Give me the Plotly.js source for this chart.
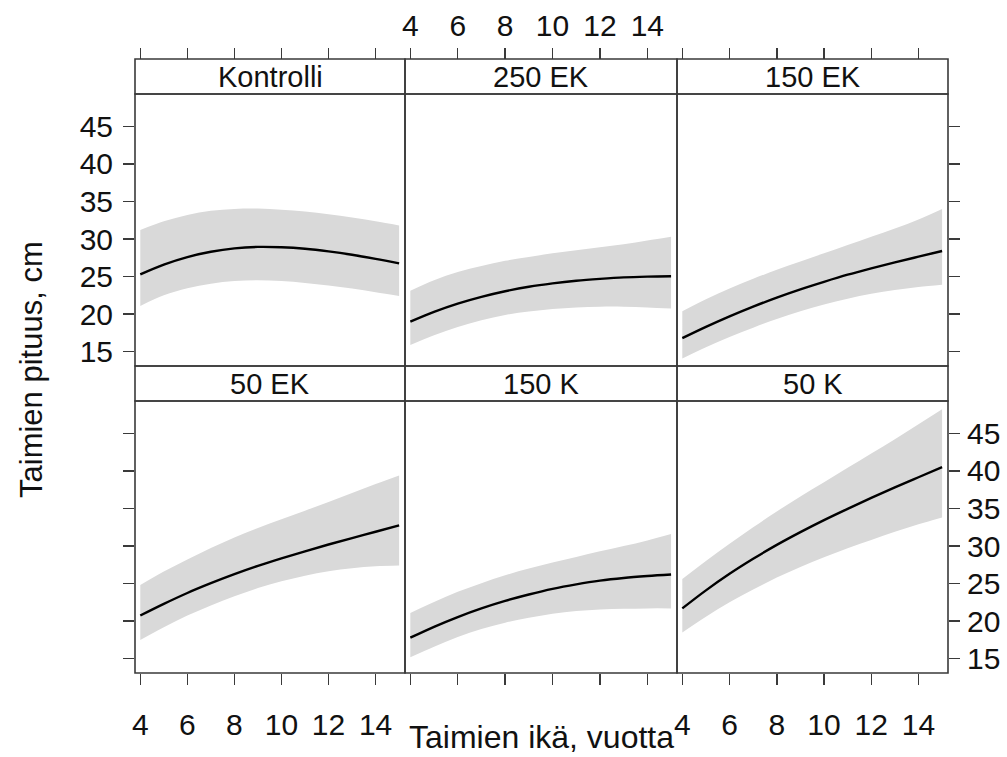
<!DOCTYPE html>
<html>
<head>
<meta charset="utf-8">
<script src="https://cdn.plot.ly/plotly-3.0.1.min.js"></script>
<style>html,body{margin:0;padding:0;background:#fff;}#chart{width:1007px;height:757px;}</style>
</head>
<body>
<div id="chart"></div>
<script>
// ---- data ----
const age = [4,5,6,7,8,9,10,11,12,13,14,15];
const panelNames = ["Kontrolli","250 EK","150 EK","50 EK","150 K","50 K"];
const xTicks = [4,6,8,10,12,14];
const yTicks = [15,20,25,30,35,40,45];

const kontrolliFit = [25.3,26.6,27.6,28.3,28.75,28.95,28.9,28.7,28.35,27.9,27.35,26.75];
const kontrolliLow = [21.1,22.5,23.45,24.05,24.4,24.5,24.4,24.15,23.8,23.4,22.9,22.4];
const kontrolliUp  = [31.2,32.35,33.2,33.75,34.0,34.05,33.9,33.65,33.3,32.85,32.35,31.8];

const ek250Fit = [19.0,20.3,21.4,22.3,23.05,23.65,24.1,24.45,24.7,24.9,25.0,25.05];
const ek250Low = [15.9,17.2,18.3,19.2,19.9,20.35,20.7,20.9,21.0,21.0,20.9,20.75];
const ek250Up  = [23.1,24.5,25.6,26.4,27.1,27.6,28.1,28.5,28.9,29.3,29.8,30.3];

const ek150Fit = [16.8,18.3,19.7,21.0,22.2,23.3,24.3,25.25,26.1,26.9,27.65,28.4];
const ek150Low = [14.1,15.6,16.95,18.2,19.35,20.4,21.3,22.05,22.7,23.2,23.6,23.9];
const ek150Up  = [20.4,22.0,23.4,24.7,25.9,27.0,28.1,29.2,30.3,31.4,32.6,34.0];

const ek50Fit = [20.75,22.3,23.75,25.05,26.25,27.35,28.35,29.3,30.2,31.05,31.9,32.75];
const ek50Low = [17.5,19.2,20.75,22.1,23.3,24.4,25.3,26.05,26.65,27.05,27.3,27.4];
const ek50Up  = [24.8,26.6,28.2,29.75,31.15,32.4,33.55,34.7,35.85,37.05,38.25,39.4];

const k150Fit = [17.8,19.25,20.55,21.7,22.7,23.55,24.3,24.9,25.4,25.75,26.0,26.2];
const k150Low = [15.2,16.6,17.9,18.95,19.8,20.45,21.0,21.35,21.55,21.65,21.7,21.7];
const k150Up  = [21.1,22.55,23.9,25.05,26.1,27.0,27.8,28.55,29.3,30.0,30.75,31.6];

const k50Fit = [21.7,24.1,26.3,28.3,30.15,31.85,33.45,34.95,36.4,37.8,39.15,40.5];
const k50Low = [18.5,20.6,22.5,24.2,25.8,27.2,28.5,29.7,30.8,31.9,32.9,33.8];
const k50Up  = [25.6,28.0,30.3,32.5,34.6,36.6,38.5,40.4,42.3,44.2,46.2,48.2];

const fits = [kontrolliFit, ek250Fit, ek150Fit, ek50Fit, k150Fit, k50Fit];
const lows = [kontrolliLow, ek250Low, ek150Low, ek50Low, k150Low, k50Low];
const ups  = [kontrolliUp, ek250Up, ek150Up, ek50Up, k150Up, k50Up];

// ---- layout helpers ----
const W = 1007, H = 757;
const px = v => v / W;
const py = v => 1 - v / H;
const cols = [[135,405],[405,677],[677,948]];
const panelRows = [[94,366],[401,673]];
const stripRows = [[59,94],[366,401]];
const FONT = "Liberation Sans, Arial, Helvetica, sans-serif";
const TXT = "#111";
const EDGE = "#3a3a3a";

const traces = [];
const layout = {
  width: W, height: H,
  margin: {l:0, r:0, t:0, b:0},
  paper_bgcolor: "#fff", plot_bgcolor: "#fff",
  showlegend: false,
  font: {family: FONT, color: TXT},
  shapes: [], annotations: []
};

for (let i = 0; i < 6; i++) {
  const r = Math.floor(i / 3), c = i % 3;
  const n = i + 1;
  const xa = "x" + (n === 1 ? "" : n), ya = "y" + (n === 1 ? "" : n);
  const xk = "xaxis" + (n === 1 ? "" : n), yk = "yaxis" + (n === 1 ? "" : n);

  traces.push({x: age, y: lows[i], xaxis: xa, yaxis: ya, mode: "lines",
    line: {width: 0, shape: "spline", color: "#d9d9d9"}, hoverinfo: "skip"});
  traces.push({x: age, y: ups[i], xaxis: xa, yaxis: ya, mode: "lines", fill: "tonexty",
    fillcolor: "#d9d9d9", line: {width: 0, shape: "spline", color: "#d9d9d9"}, hoverinfo: "skip"});
  traces.push({x: age, y: fits[i], xaxis: xa, yaxis: ya, mode: "lines",
    line: {width: 2.4, shape: "spline", color: "#000"}, name: panelNames[i]});

  const xAxis = {
    domain: [px(cols[c][0]), px(cols[c][1])],
    range: [3.775, 15.25],
    tickvals: xTicks, ticktext: xTicks.map(String),
    ticks: "outside", ticklen: 11, tickwidth: 1.5, tickcolor: EDGE,
    showgrid: false, zeroline: false, showline: false,
    tickfont: {family: FONT, size: 30, color: TXT},
    fixedrange: true
  };
  if (r === 0) {
    xAxis.anchor = "free";
    xAxis.position = py(59);
    xAxis.side = "top";
    xAxis.showticklabels = (c === 1);
    xAxis.ticklabelstandoff = 0;
  } else {
    xAxis.anchor = ya;
    xAxis.side = "bottom";
    xAxis.showticklabels = (c !== 1);
    xAxis.ticklabelstandoff = 14;
  }
  layout[xk] = xAxis;

  const yAxis = {
    domain: [py(panelRows[r][1]), py(panelRows[r][0])],
    range: [13.1, 49.3],
    anchor: xa,
    tickvals: yTicks, ticktext: yTicks.map(String),
    side: c === 2 ? "right" : "left",
    ticks: c === 1 ? "" : "outside",
    ticklen: 11, tickwidth: 1.5, tickcolor: EDGE,
    showticklabels: (r === 0 && c === 0) || (r === 1 && c === 2),
    showgrid: false, zeroline: false, showline: false,
    tickfont: {family: FONT, size: 30, color: TXT},
    ticklabelstandoff: c === 2 ? 1 : 4,
    fixedrange: true
  };
  layout[yk] = yAxis;

  // panel box
  layout.shapes.push({type: "rect", xref: "paper", yref: "paper", layer: "above",
    x0: px(cols[c][0]), x1: px(cols[c][1]), y0: py(panelRows[r][1]), y1: py(panelRows[r][0]),
    line: {color: EDGE, width: 1.6}, fillcolor: "rgba(0,0,0,0)"});
  // strip box
  layout.shapes.push({type: "rect", xref: "paper", yref: "paper", layer: "above",
    x0: px(cols[c][0]), x1: px(cols[c][1]), y0: py(stripRows[r][1]), y1: py(stripRows[r][0]),
    line: {color: EDGE, width: 1.6}, fillcolor: "rgba(0,0,0,0)"});
  layout.annotations.push({xref: "paper", yref: "paper",
    x: px((cols[c][0] + cols[c][1]) / 2), y: py((stripRows[r][0] + stripRows[r][1]) / 2),
    xanchor: "center", yanchor: "middle", showarrow: false,
    text: panelNames[i], font: {family: FONT, size: 29, color: TXT}});
}

layout.annotations.push({xref: "paper", yref: "paper", x: px(541), y: py(737),
  xanchor: "center", yanchor: "middle", showarrow: false,
  text: "Taimien ikä, vuotta", font: {family: FONT, size: 32, color: TXT}});
layout.annotations.push({xref: "paper", yref: "paper", x: px(31), y: py(370),
  xanchor: "center", yanchor: "middle", showarrow: false, textangle: -90,
  text: "Taimien pituus, cm", font: {family: FONT, size: 31, color: TXT}});

Plotly.newPlot("chart", traces, layout, {displayModeBar: false, staticPlot: true});
</script>
</body>
</html>
